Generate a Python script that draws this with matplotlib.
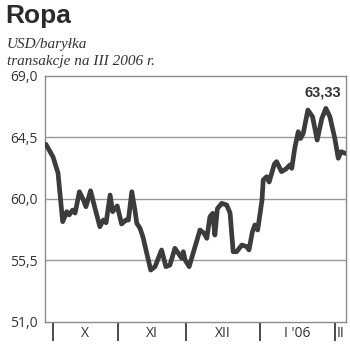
import matplotlib
matplotlib.use("Agg")
import matplotlib.pyplot as plt

# notowania (sesje od konca wrzesnia 2005) - wierzcholki
sessions = [0.3, 2.6, 4.2, 5.7, 7.0, 7.8, 8.9, 9.7, 11.1, 12.4, 13.2, 14.7, 16.1,
            17.7, 18.8, 19.7, 21.0, 21.8, 23.3, 24.7, 26.1, 26.9, 28.0, 29.0, 29.6,
            30.6, 31.6, 32.8, 34.1, 35.5, 37.6, 39.0, 40.3, 41.9, 43.0, 44.1, 44.6,
            45.2, 46.5, 48.4, 50.0, 51.3, 52.2, 53.2, 54.1, 54.8, 55.6, 57.0, 58.6,
            59.7, 60.7, 61.8, 63.5, 65.1, 65.8, 66.9, 67.7, 68.6, 69.4, 70.0, 70.4,
            71.5, 72.3, 74.0, 74.7, 76.3, 77.7, 79.0, 79.6, 80.6, 81.7, 82.4, 83.3,
            84.8, 86.3, 87.8, 89.3, 90.6, 91.9, 93.5, 94.6, 95.5, 97.0]
prices = [64.0, 63.07, 61.9, 58.34, 59.07, 58.83, 59.19, 58.97, 60.53, 59.92, 59.43,
          60.6, 59.34, 57.97, 58.46, 58.26, 60.29, 59.07, 59.49, 58.17, 58.46, 58.46,
          60.53, 59.2, 58.22, 57.88, 57.22, 56.05, 54.8, 55.05, 56.27, 55.05, 55.17,
          56.39, 56.03, 55.66, 56.14, 55.54, 55.05, 56.51, 57.73, 57.49, 57.12, 58.7,
          58.95, 57.36, 59.29, 59.68, 59.56, 58.97, 56.14, 56.14, 56.63, 56.51, 56.27,
          57.6, 58.1, 57.73, 58.97, 59.92, 61.39, 61.63, 61.24, 62.56, 62.73, 62.0,
          62.19, 62.49, 62.24, 63.77, 64.92, 64.42, 64.8, 66.51, 66.02, 64.31, 65.89,
          66.63, 66.02, 64.42, 62.98, 63.46, 63.33]

month_starts = [2.5, 23.5, 45.5, 69.5, 93.5]
month_labels = ["X", "XI", "XII", "I '06", "II"]
label_pos = [13.0, 34.5, 57.5, 81.5, 95.3]
y_ticks = [51.0, 55.5, 60.0, 64.5, 69.0]
y_labels = ["51,0", "55,5", "60,0", "64,5", "69,0"]
last_label = "63,33"

fig = plt.figure(figsize=(3.5, 3.55), dpi=100)
ax = fig.add_axes([0.1286, 0.093, 0.86, 0.693])

ax.plot(sessions, prices, color="#3c3c3c", lw=3.4,
        solid_joinstyle="round", solid_capstyle="round", zorder=3)

ax.set_xlim(0, 97.1)
ax.set_ylim(51, 69)

# siatka pozioma
for v in y_ticks[1:-1]:
    ax.axhline(v, color="#9a9a9a", lw=1.0, zorder=1)

ax.set_yticks(y_ticks)
ax.set_yticklabels(y_labels, family="Open Sans", fontsize=10, color="#333333")
ax.tick_params(axis="y", length=0, pad=5)

# kreski miesiecy i podpisy
ax.set_xticks(month_starts)
ax.set_xticklabels([""] * len(month_starts))
ax.tick_params(axis="x", which="major", length=14, width=1.3, color="#3c3c3c",
               direction="out")
ax.set_xticks(label_pos, minor=True)
ax.set_xticklabels(month_labels, minor=True, family="Open Sans", fontsize=10,
                   color="#333333")
ax.tick_params(axis="x", which="minor", length=0, pad=3)

for s in ax.spines.values():
    s.set_color("#8a8a8a")
    s.set_linewidth(1.0)

# ostatnia wartosc nad szczytem
ax.text(89.7, 67.8, last_label, ha="center", va="center",
        family="Liberation Sans", fontweight="bold", fontsize=10.5,
        color="#333333")

fig.text(0.014, 0.955, "Ropa", family="Liberation Sans", fontweight="bold",
         fontsize=19, color="#2b2b2b", va="center", ha="left")
fig.text(0.02, 0.874, "USD/baryłka", family="Liberation Serif", style="italic",
         fontsize=11, color="#333333", va="center", ha="left")
fig.text(0.02, 0.826, "transakcje na III 2006 r.", family="Liberation Serif",
         style="italic", fontsize=11, color="#333333", va="center", ha="left")

fig.savefig("out.png", dpi=100)
